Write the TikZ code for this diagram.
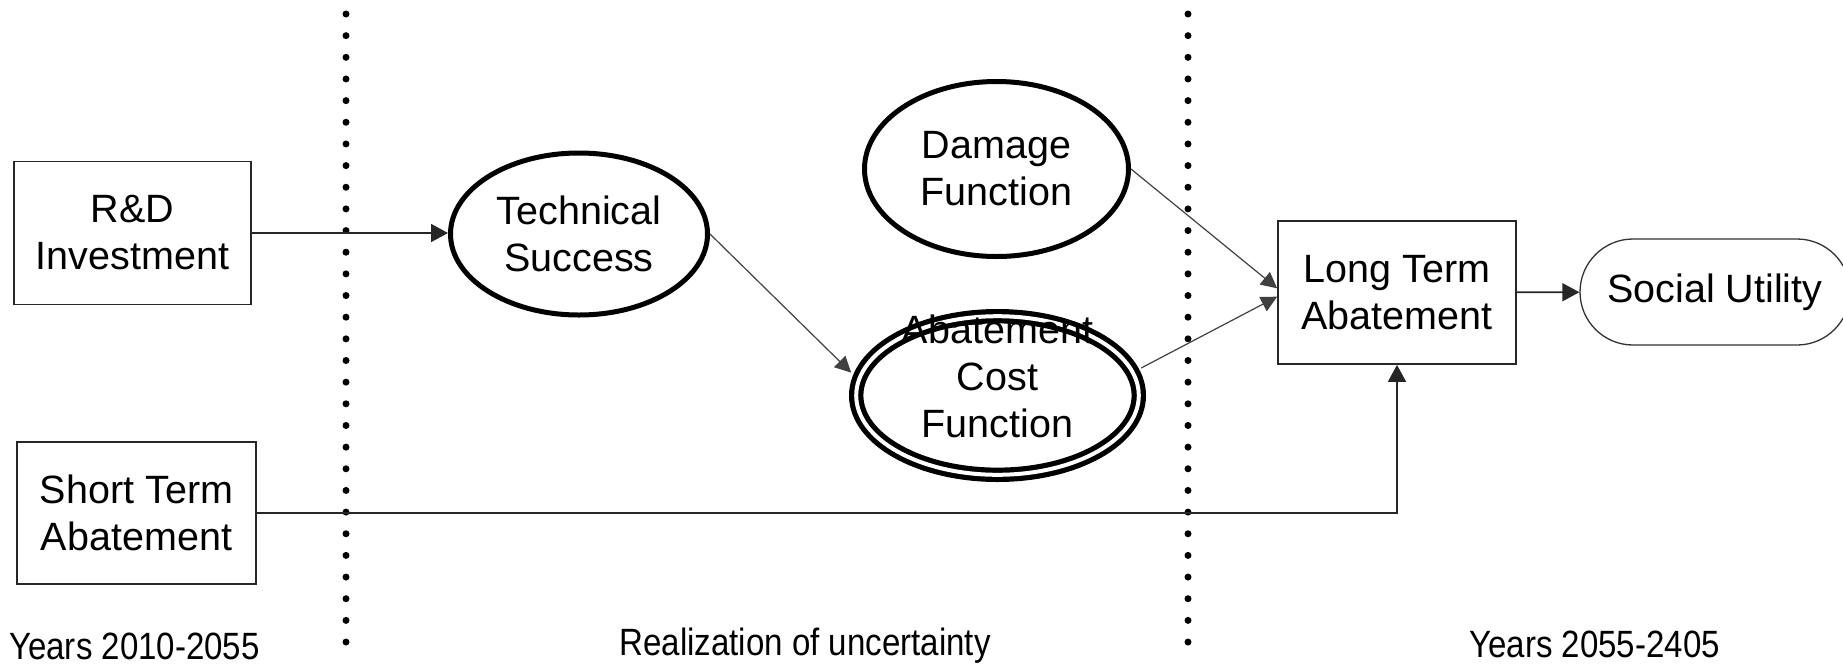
\documentclass[tikz,border=0pt]{standalone}
\usepackage{graphicx}
\usepackage{fontspec}
\setmainfont{Liberation Sans}
\usetikzlibrary{shapes.geometric,shapes.misc,arrows.meta}
\begin{document}
\begin{tikzpicture}[x=0.5pt,y=-0.5pt,
  nodefont/.style={font=\fontsize{19.75}{23.5}\selectfont},
  boxnode/.style={nodefont, draw=black!85, line width=0.85pt, rectangle, inner sep=0pt, align=center},
  ovalnode/.style={nodefont, draw=black, line width=2.5pt, ellipse, inner sep=0pt, align=center},
  arr/.style={-{Triangle[length=8.5pt,width=9pt]}, line width=0.85pt, draw=black!85},
  thinarr/.style={-{Triangle[length=8pt,width=8pt]}, line width=0.6pt, draw=black!75},
  sepline/.style={line width=3.5pt, line cap=round, dash pattern=on 0pt off 10.828pt},
  yearlabel/.style={anchor=base, inner sep=0pt, font=\fontsize{19}{22}\selectfont}
]
\useasboundingbox (0,0) rectangle (1843,665);

% separators
\coordinate (s1t) at (346,14);
\coordinate (s1b) at (346,646);
\coordinate (s2t) at (1188,14);
\coordinate (s2b) at (1188,646);
\draw[sepline] (s1t) -- (s1b);
\draw[sepline] (s2t) -- (s2b);

% nodes
\node[boxnode, minimum width=118.5pt, minimum height=71.5pt] (rd) at (132.5,233) {R\&D\\Investment};
\node[boxnode, minimum width=119.5pt, minimum height=71pt] (st) at (136.5,513) {Short Term\\Abatement};
\node[ovalnode, minimum width=128.5pt, minimum height=81pt] (tech) at (579,234) {Technical\\Success};
\node[ovalnode, minimum width=132pt, minimum height=87.5pt] (dmg) at (996.5,169) {Damage\\Function};
\node[ovalnode, double, double distance=2pt, line width=2.6pt, minimum width=141.3pt, minimum height=79.3pt] (abc) at (997.5,395.5)
  {\raisebox{2pt}[0pt][0pt]{\begin{tabular}{@{}c@{}}Abatement\\Cost\\Function\end{tabular}}};
\node[boxnode, minimum width=119pt, minimum height=71.5pt] (lt) at (1397,292.5) {Long Term\\Abatement};
\node[nodefont, draw=black!80, line width=0.65pt, rounded rectangle, minimum width=135pt, minimum height=53pt, inner sep=0pt] (su) at (1715,292) {Social Utility};

% connectors
\draw[arr] (rd.east) -- (rd.east -| tech.west);
\draw[thinarr, shorten >=4pt] (tech.east) -- (abc.173.5);
\draw[thinarr] (dmg.east) -- (lt.178);
\draw[thinarr, shorten <=3.5pt] (abc.10) -- (lt.182);
\draw[arr] (lt) -- (su);
\draw[arr] (st.east) -| (lt.south);

% labels
\node[yearlabel] (y1) at (134.5,659) {\scalebox{0.87}[1]{Years 2010-2055}};
\node[yearlabel] (unc) at (805,655) {\scalebox{0.87}[1]{Realization of uncertainty}};
\node[yearlabel] (y2) at (1594.5,657) {\scalebox{0.87}[1]{Years 2055-2405}};
\end{tikzpicture}
\end{document}
